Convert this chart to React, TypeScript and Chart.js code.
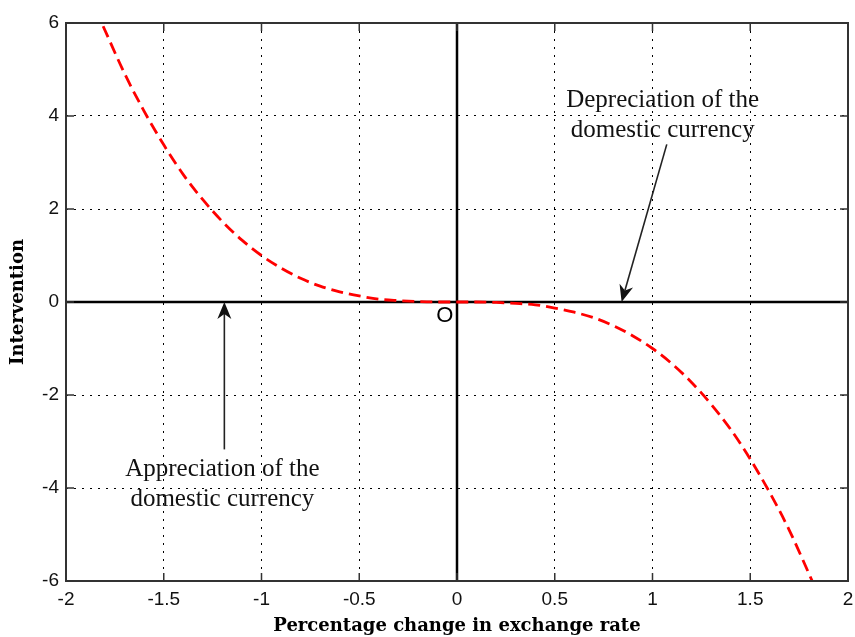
import React, { useEffect, useRef } from 'react';
import { Chart, registerables } from 'chart.js';

Chart.register(...registerables);

// Percentage change in exchange rate (x) and intervention (y)
const exchangeChange = [
  -1.81, -1.7, -1.6, -1.5, -1.4, -1.3, -1.2, -1.1, -1.0, -0.9, -0.8, -0.7, -0.6, -0.5, -0.4, -0.3, -0.2, -0.1,
  0,
  0.1, 0.2, 0.3, 0.4, 0.5, 0.6, 0.7, 0.8, 0.9, 1.0, 1.1, 1.2, 1.3, 1.4, 1.5, 1.6, 1.7, 1.82,
];
const intervention = [
  5.93, 4.91, 4.1, 3.38, 2.74, 2.2, 1.73, 1.33, 1.0, 0.73, 0.51, 0.34, 0.22, 0.13, 0.06, 0.03, 0.01, 0.0,
  0,
  0.0, -0.01, -0.03, -0.06, -0.13, -0.22, -0.34, -0.51, -0.73, -1.0, -1.33, -1.73, -2.2, -2.74, -3.38, -4.1, -4.91, -6.03,
];

const xTicksMin = -2;
const xTicksMax = 2;
const xTickStep = 0.5;
const yTicksMin = -6;
const yTicksMax = 6;
const yTickStep = 2;

const xTitle = 'Percentage change in exchange rate';
const yTitle = 'Intervention';

// Annotation texts and their anchors in data coordinates
const depreciationLines = ['Depreciation of the', 'domestic currency'];
const depreciationAnchor = { x: 1.052, y: 4.19 };
const depreciationArrow = { fromX: 1.073, fromY: 3.39, toX: 0.842, toY: 0 };

const appreciationLines = ['Appreciation of the', 'domestic currency'];
const appreciationAnchor = { x: -1.2, y: -3.75 };
const appreciationArrow = { fromX: -1.19, fromY: -3.17, toX: -1.19, toY: 0 };

const originLabel = 'O';
const originAnchor = { x: -0.063, y: -0.3 };

function drawArrow(ctx: CanvasRenderingContext2D, x1: number, y1: number, x2: number, y2: number) {
  const headLen = 17;
  const headHalf = 7;
  const notch = 5;
  const ang = Math.atan2(y2 - y1, x2 - x1);
  const cos = Math.cos(ang);
  const sin = Math.sin(ang);
  const bx = x2 - headLen * cos;
  const by = y2 - headLen * sin;
  const nx = x2 - (headLen - notch) * cos;
  const ny = y2 - (headLen - notch) * sin;
  ctx.beginPath();
  ctx.moveTo(x1, y1);
  ctx.lineTo(nx, ny);
  ctx.stroke();
  ctx.beginPath();
  ctx.moveTo(x2, y2);
  ctx.lineTo(bx - headHalf * sin, by + headHalf * cos);
  ctx.lineTo(nx, ny);
  ctx.lineTo(bx + headHalf * sin, by - headHalf * cos);
  ctx.closePath();
  ctx.fill();
}

const framePlugin = {
  id: 'frameAndAnnotations',
  beforeDatasetsDraw(chart: any) {
    const { ctx, chartArea: a, scales } = chart;
    const xs = scales.x;
    const ys = scales.y;
    ctx.save();
    const x0 = xs.getPixelForValue(0);
    const y0 = ys.getPixelForValue(0);
    ctx.strokeStyle = '#000';
    ctx.lineWidth = 2.5;
    ctx.beginPath();
    ctx.moveTo(a.left, y0);
    ctx.lineTo(a.right, y0);
    ctx.moveTo(x0, a.top);
    ctx.lineTo(x0, a.bottom);
    ctx.stroke();
    ctx.restore();
  },
  afterDraw(chart: any) {
    const { ctx, chartArea: a, scales } = chart;
    const xs = scales.x;
    const ys = scales.y;
    ctx.save();
    ctx.strokeStyle = '#333';
    ctx.lineWidth = 2;
    ctx.strokeRect(a.left, a.top, a.right - a.left, a.bottom - a.top);
    const tl = 8;
    ctx.lineWidth = 1.5;
    ctx.beginPath();
    xs.ticks.forEach((t: any) => {
      const px = xs.getPixelForValue(t.value);
      ctx.moveTo(px, a.bottom);
      ctx.lineTo(px, a.bottom - tl);
      ctx.moveTo(px, a.top);
      ctx.lineTo(px, a.top + tl);
    });
    ys.ticks.forEach((t: any) => {
      const py = ys.getPixelForValue(t.value);
      ctx.moveTo(a.left, py);
      ctx.lineTo(a.left + tl, py);
      ctx.moveTo(a.right, py);
      ctx.lineTo(a.right - tl, py);
    });
    ctx.stroke();

    ctx.strokeStyle = '#222';
    ctx.fillStyle = '#111';
    ctx.lineWidth = 1.6;
    [depreciationArrow, appreciationArrow].forEach((ar) => {
      drawArrow(
        ctx,
        xs.getPixelForValue(ar.fromX),
        ys.getPixelForValue(ar.fromY),
        xs.getPixelForValue(ar.toX),
        ys.getPixelForValue(ar.toY)
      );
    });

    ctx.fillStyle = '#111';
    ctx.font = '25px "Liberation Serif", serif';
    ctx.textAlign = 'center';
    ctx.textBaseline = 'alphabetic';
    const lineGap = 30;
    const drawLines = (lines: string[], anchor: { x: number; y: number }) => {
      const cx = xs.getPixelForValue(anchor.x);
      const cy = ys.getPixelForValue(anchor.y);
      lines.forEach((ln, i) => ctx.fillText(ln, cx, cy + i * lineGap));
    };
    drawLines(depreciationLines, depreciationAnchor);
    drawLines(appreciationLines, appreciationAnchor);

    ctx.font = '22px "Liberation Sans", sans-serif';
    ctx.textBaseline = 'middle';
    ctx.fillStyle = '#000';
    ctx.fillText(originLabel, xs.getPixelForValue(originAnchor.x), ys.getPixelForValue(originAnchor.y));
    ctx.restore();
  },
};

const tickFormat = (v: any) => String(Number(v));

export default function App() {
  const canvasRef = useRef<HTMLCanvasElement | null>(null);

  useEffect(() => {
    if (!canvasRef.current) return;
    const points = exchangeChange.map((x, i) => ({ x, y: intervention[i] }));
    const chart = new Chart(canvasRef.current, {
      type: 'line',
      data: {
        datasets: [
          {
            data: points,
            borderColor: '#ff0000',
            borderWidth: 2.8,
            borderDash: [12, 6],
            pointRadius: 0,
            fill: false,
            cubicInterpolationMode: 'monotone',
          },
        ],
      },
      options: {
        animation: false,
        responsive: false,
        devicePixelRatio: 1,
        layout: { padding: { left: 0, right: 7, top: 23, bottom: 0 } },
        plugins: {
          legend: { display: false },
          tooltip: { enabled: false },
        },
        scales: {
          x: {
            type: 'linear',
            min: xTicksMin,
            max: xTicksMax,
            ticks: {
              stepSize: xTickStep,
              color: '#111',
              font: { family: '"Liberation Sans", sans-serif', size: 19 },
              padding: 7,
              maxRotation: 0,
              callback: tickFormat,
            },
            grid: { color: '#000', lineWidth: 1, drawTicks: false },
            border: { display: false, dash: [2, 6] },
            title: {
              display: true,
              text: xTitle,
              color: '#000',
              font: { family: '"DejaVu Serif", serif', size: 18, weight: 'bold' },
              padding: { top: 0, bottom: 0 },
            },
            afterFit: (scale: any) => {
              scale.height = 56;
              scale.paddingLeft = 0;
              scale.paddingRight = 0;
            },
          },
          y: {
            type: 'linear',
            min: yTicksMin,
            max: yTicksMax,
            ticks: {
              stepSize: yTickStep,
              color: '#111',
              font: { family: '"Liberation Sans", sans-serif', size: 19 },
              padding: 7,
              callback: tickFormat,
            },
            grid: { color: '#000', lineWidth: 1, drawTicks: false },
            border: { display: false, dash: [2, 6] },
            title: {
              display: true,
              text: yTitle,
              color: '#000',
              font: { family: '"DejaVu Serif", serif', size: 18, weight: 'bold' },
              padding: { top: 8, bottom: 0 },
            },
            afterFit: (scale: any) => {
              scale.width = 66;
              scale.paddingTop = 0;
              scale.paddingBottom = 0;
            },
          },
        },
      },
      plugins: [framePlugin],
    } as any);
    return () => chart.destroy();
  }, []);

  return (
    <div style={{ position: 'fixed', left: 0, top: 0, width: 855, height: 637, background: '#fff' }}>
      <canvas ref={canvasRef} width={855} height={637} style={{ display: 'block' }} />
    </div>
  );
}
